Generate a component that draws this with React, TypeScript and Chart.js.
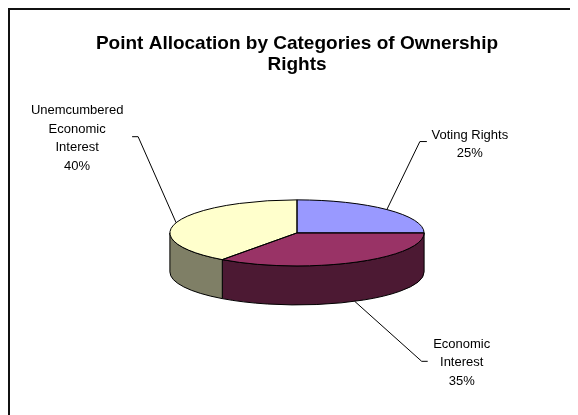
import { useEffect, useRef } from "react";
import { Chart, registerables } from "chart.js";

Chart.register(...registerables);

const categories = ["Voting Rights", "Economic Interest", "Unemcumbered Economic Interest"];
const labelLines = [["Voting Rights"], ["Economic", "Interest"], ["Unemcumbered", "Economic", "Interest"]];
const shares = [25, 35, 40];
const topColors = ["#9999FF", "#993366", "#FFFFCC"];
const sideColors = ["#4C4C80", "#4C1933", "#7F7F66"];
const titleLines = ["Point Allocation by Categories of Ownership", "Rights"];

const FONT = '"Liberation Sans", Arial, Helvetica, sans-serif';
const TILT = 33 / 127;
const DEPTH = 39;

// leader geometry relative to the slice anchor: elbow dx, dy, stub length, text center dx, text center dy
const leaders = [
  { ex: 33, ey: -68, stub: 7, tx: 43, ty: 3 },
  { ex: 67, ey: 60, stub: 6, tx: 34, ty: 1.5 },
  { ex: -38, ey: -86, stub: -6, tx: -55, ty: 1.5 },
];

const pie3d = {
  id: "pie3d",
  beforeDraw(chart: any) {
    const ctx = chart.ctx;
    ctx.save();
    ctx.strokeStyle = "#111";
    ctx.lineWidth = 2;
    ctx.beginPath();
    ctx.moveTo(1, chart.height);
    ctx.lineTo(1, 1);
    ctx.lineTo(566, 1);
    ctx.lineTo(566, chart.height);
    ctx.stroke();
    ctx.restore();
  },
  beforeDatasetsDraw(chart: any) {
    const ctx = chart.ctx;
    const arcs = chart.getDatasetMeta(0).data;
    const cx = arcs[0].x;
    const cy = arcs[0].y;
    ctx.save();
    ctx.lineWidth = 1;
    ctx.strokeStyle = "#000";
    arcs.forEach((arc: any, i: number) => {
      const { startAngle, endAngle, outerRadius } = arc.getProps(["startAngle", "endAngle", "outerRadius"]);
      const rx = outerRadius;
      const ry = rx * TILT;
      for (const off of [-2 * Math.PI, 0, 2 * Math.PI]) {
        const s = Math.max(startAngle, off);
        const e = Math.min(endAngle, off + Math.PI);
        if (e - s > 1e-6) {
          ctx.beginPath();
          ctx.ellipse(cx, cy, rx, ry, 0, s, e, false);
          ctx.lineTo(cx + rx * Math.cos(e), cy + DEPTH + ry * Math.sin(e));
          ctx.ellipse(cx, cy + DEPTH, rx, ry, 0, e, s, true);
          ctx.closePath();
          ctx.fillStyle = sideColors[i];
          ctx.fill();
          ctx.stroke();
        }
      }
    });
    ctx.restore();
    ctx.save();
    ctx.translate(0, cy);
    ctx.scale(1, TILT);
    ctx.translate(0, -cy);
  },
  afterDatasetsDraw(chart: any) {
    const ctx = chart.ctx;
    ctx.restore();
    const arcs = chart.getDatasetMeta(0).data;
    const values = chart.data.datasets[0].data as number[];
    const total = values.reduce((a, b) => a + b, 0);
    ctx.save();
    ctx.lineWidth = 1;
    ctx.strokeStyle = "#000";
    arcs.forEach((arc: any) => {
      const { x, y, startAngle, endAngle, outerRadius } = arc.getProps(["x", "y", "startAngle", "endAngle", "outerRadius"]);
      const rx = outerRadius;
      const ry = rx * TILT;
      ctx.beginPath();
      ctx.moveTo(x, y);
      ctx.lineTo(x + rx * Math.cos(startAngle), y + ry * Math.sin(startAngle));
      ctx.ellipse(x, y, rx, ry, 0, startAngle, endAngle, false);
      ctx.closePath();
      ctx.stroke();
    });
    ctx.font = `13px ${FONT}`;
    ctx.textAlign = "center";
    ctx.textBaseline = "middle";
    ctx.fillStyle = "#000";
    arcs.forEach((arc: any, i: number) => {
      const { x, y, startAngle, endAngle, outerRadius } = arc.getProps(["x", "y", "startAngle", "endAngle", "outerRadius"]);
      const rx = outerRadius;
      const ry = rx * TILT;
      const mid = (startAngle + endAngle) / 2;
      const ax = x + rx * Math.cos(mid);
      const ay = y + ry * Math.sin(mid) + (Math.sin(mid) > 0 ? DEPTH : 0);
      const L = leaders[i];
      const bx = ax + L.ex;
      const by = ay + L.ey;
      const sx = bx + L.stub;
      ctx.beginPath();
      ctx.moveTo(ax, ay);
      ctx.lineTo(bx, by);
      ctx.lineTo(sx, by);
      ctx.stroke();
      const lines = [...labelLines[i], `${Math.round((values[i] / total) * 100)}%`];
      const lh = 18.5;
      const tcx = sx + L.tx;
      const tcy = by + L.ty;
      const top = tcy - ((lines.length - 1) * lh) / 2;
      lines.forEach((t, j) => ctx.fillText(t, tcx, top + j * lh));
    });
    ctx.restore();
  },
};

export default function App() {
  const ref = useRef<HTMLCanvasElement>(null);
  useEffect(() => {
    if (!ref.current) return;
    const chart = new Chart(ref.current, {
      type: "pie",
      data: {
        labels: categories,
        datasets: [
          {
            data: shares,
            backgroundColor: topColors,
            borderWidth: 0,
            clip: false as any,
          },
        ],
      },
      options: {
        responsive: false,
        animation: false,
        events: [],
        layout: { padding: { top: 10, left: 8, right: 0, bottom: 55 } },
        plugins: {
          legend: { display: false },
          tooltip: { enabled: false },
          title: {
            display: true,
            text: titleLines,
            color: "#000",
            font: { family: FONT, size: 19, weight: "bold", lineHeight: 1.1 },
            padding: { top: 15.5, bottom: 30.5 },
          },
        },
      },
      plugins: [pie3d],
    });
    return () => chart.destroy();
  }, []);
  return (
    <div style={{ width: 570, height: 407 }}>
      <canvas ref={ref} width={570} height={407} style={{ display: "block" }} />
    </div>
  );
}
